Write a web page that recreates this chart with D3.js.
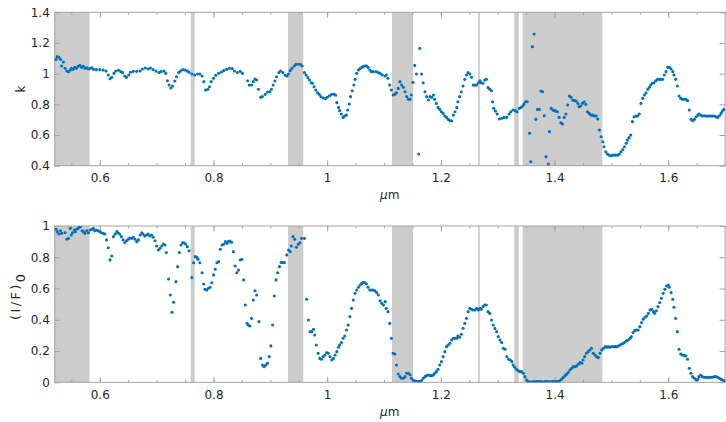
<!DOCTYPE html>
<html>
<head>
<meta charset="utf-8">
<script src="https://cdn.jsdelivr.net/npm/d3@7"></script>
<style>
  html, body { margin: 0; padding: 0; background: #fff; }
  svg { display: block; font-family: "DejaVu Sans", sans-serif; }
</style>
</head>
<body>
<svg id="chart" width="726" height="422"></svg>
<script>
// Wavelength windows shaded in both panels (μm)
const bands = [
  [0.52, 0.582], [0.760, 0.767], [0.931, 0.958], [1.114, 1.151],
  [1.2655, 1.2685], [1.329, 1.337], [1.344, 1.484]
];

const xTicks = [0.6, 0.8, 1.0, 1.2, 1.4, 1.6];
const xMinorTicks = [0.55, 0.6, 0.65, 0.7, 0.75, 0.8, 0.85, 0.9, 0.95, 1.0, 1.05, 1.1, 1.15,
  1.2, 1.25, 1.3, 1.35, 1.4, 1.45, 1.5, 1.55, 1.6, 1.65, 1.7];
const kTicks = [0.4, 0.6, 0.8, 1.0, 1.2, 1.4];
const iofTicks = [0, 0.2, 0.4, 0.6, 0.8, 1.0];

// k versus wavelength: [μm, k]
const kSeries = [
  [0.523,1.093],[0.525,1.111],[0.528,1.107],[0.531,1.093],[0.533,1.050],[0.536,1.076],[0.539,1.035],
  [0.542,1.017],[0.545,1.013],[0.548,1.024],[0.550,1.035],[0.553,1.028],[0.556,1.041],[0.559,1.035],
  [0.562,1.048],[0.565,1.054],[0.568,1.041],[0.571,1.048],[0.574,1.035],[0.577,1.039],[0.580,1.030],
  [0.583,1.035],[0.586,1.039],[0.589,1.028],[0.594,1.026],[0.600,1.026],[0.606,1.024],[0.611,1.017],
  [0.615,0.991],[0.618,0.967],[0.621,0.976],[0.625,1.002],[0.628,1.017],[0.633,1.022],[0.637,1.013],
  [0.640,1.007],[0.644,0.985],[0.647,0.976],[0.651,0.991],[0.654,1.009],[0.659,1.015],[0.665,1.015],
  [0.671,1.017],[0.675,1.030],[0.680,1.037],[0.685,1.030],[0.689,1.037],[0.694,1.026],[0.699,1.017],
  [0.704,1.007],[0.708,1.013],[0.713,1.017],[0.716,1.002],[0.719,0.954],[0.722,0.926],[0.725,0.907],
  [0.728,0.920],[0.732,0.952],[0.735,0.980],[0.739,1.007],[0.742,1.017],[0.746,1.026],[0.750,1.024],
  [0.754,1.017],[0.757,1.009],[0.762,0.998],[0.767,0.991],[0.772,0.998],[0.776,0.998],[0.780,0.985],
  [0.783,0.948],[0.786,0.893],[0.790,0.898],[0.793,0.915],[0.796,0.948],[0.800,0.970],[0.804,0.989],
  [0.809,1.002],[0.814,1.011],[0.818,1.020],[0.823,1.028],[0.828,1.035],[0.833,1.033],[0.837,1.017],
  [0.842,1.007],[0.847,1.015],[0.851,1.002],[0.860,0.954],[0.863,0.926],[0.867,0.926],[0.870,0.948],
  [0.873,0.965],[0.876,0.959],[0.879,0.898],[0.883,0.846],[0.886,0.850],[0.891,0.865],[0.895,0.880],
  [0.899,0.882],[0.902,0.898],[0.905,0.926],[0.908,0.952],[0.911,0.980],[0.915,1.007],[0.918,1.017],
  [0.922,1.007],[0.926,0.991],[0.929,0.985],[0.932,0.998],[0.935,1.020],[0.938,1.035],[0.942,1.050],
  [0.945,1.061],[0.949,1.061],[0.953,1.061],[0.956,1.050],[0.960,1.007],[0.963,0.991],[0.966,0.974],
  [0.969,0.959],[0.972,0.941],[0.974,0.937],[0.977,0.915],[0.980,0.893],[0.983,0.876],[0.986,0.865],
  [0.989,0.850],[0.993,0.841],[0.997,0.837],[1.000,0.846],[1.004,0.856],[1.008,0.865],[1.012,0.867],
  [1.015,0.859],[1.017,0.811],[1.020,0.780],[1.022,0.759],[1.025,0.737],[1.028,0.715],[1.031,0.724],
  [1.034,0.730],[1.036,0.763],[1.039,0.802],[1.041,0.850],[1.044,0.889],[1.047,0.926],[1.049,0.963],
  [1.052,1.002],[1.055,1.024],[1.058,1.033],[1.061,1.041],[1.063,1.046],[1.066,1.050],[1.069,1.052],
  [1.072,1.041],[1.075,1.024],[1.078,1.013],[1.081,1.013],[1.086,1.013],[1.090,1.007],[1.093,1.002],
  [1.097,0.991],[1.102,0.985],[1.104,0.991],[1.107,0.970],[1.110,0.926],[1.113,0.893],[1.116,0.861],
  [1.119,0.865],[1.122,0.876],[1.125,0.904],[1.128,0.948],[1.131,0.926],[1.134,0.911],[1.137,0.882],
  [1.140,0.850],[1.143,0.833],[1.146,0.833],[1.148,0.861],[1.151,0.943],[1.154,1.054],[1.157,0.998],
  [1.161,0.476],[1.163,1.165],[1.166,0.998],[1.169,0.941],[1.172,0.882],[1.175,0.850],[1.178,0.828],
  [1.181,0.850],[1.184,0.846],[1.187,0.861],[1.189,0.833],[1.192,0.806],[1.195,0.780],[1.198,0.767],
  [1.201,0.752],[1.204,0.741],[1.207,0.724],[1.210,0.715],[1.213,0.702],[1.216,0.693],[1.219,0.693],
  [1.222,0.730],[1.225,0.752],[1.228,0.780],[1.230,0.817],[1.233,0.850],[1.236,0.882],[1.239,0.920],
  [1.242,0.963],[1.245,0.991],[1.248,1.007],[1.251,0.998],[1.254,0.976],[1.257,0.926],[1.260,0.926],
  [1.263,0.926],[1.266,0.941],[1.269,0.954],[1.271,0.941],[1.274,0.937],[1.277,0.959],[1.280,0.963],
  [1.283,0.909],[1.286,0.898],[1.289,0.889],[1.291,0.817],[1.293,0.774],[1.296,0.756],[1.299,0.737],
  [1.303,0.704],[1.307,0.709],[1.311,0.715],[1.316,0.715],[1.320,0.737],[1.323,0.752],[1.327,0.763],
  [1.331,0.759],[1.334,0.752],[1.338,0.774],[1.341,0.780],[1.344,0.789],[1.346,0.802],[1.349,0.817],
  [1.352,0.817],[1.356,0.611],[1.358,0.426],[1.361,1.176],[1.364,1.259],[1.367,0.702],[1.370,0.767],
  [1.373,0.767],[1.376,0.887],[1.379,0.882],[1.382,0.726],[1.385,0.459],[1.389,0.411],[1.391,0.622],
  [1.394,0.774],[1.397,0.763],[1.400,0.759],[1.402,0.756],[1.405,0.752],[1.408,0.715],[1.411,0.680],
  [1.414,0.672],[1.417,0.715],[1.420,0.737],[1.423,0.796],[1.426,0.854],[1.429,0.846],[1.432,0.828],
  [1.435,0.824],[1.438,0.822],[1.441,0.806],[1.443,0.785],[1.446,0.789],[1.449,0.806],[1.452,0.817],
  [1.455,0.800],[1.458,0.752],[1.461,0.741],[1.464,0.730],[1.467,0.730],[1.470,0.724],[1.473,0.724],
  [1.476,0.704],[1.479,0.633],[1.482,0.589],[1.485,0.556],[1.487,0.524],[1.490,0.491],[1.493,0.476],
  [1.496,0.469],[1.499,0.465],[1.502,0.469],[1.505,0.469],[1.508,0.469],[1.511,0.469],[1.514,0.476],
  [1.517,0.491],[1.520,0.506],[1.523,0.524],[1.526,0.546],[1.528,0.567],[1.531,0.583],[1.534,0.600],
  [1.537,0.687],[1.540,0.719],[1.543,0.724],[1.546,0.724],[1.549,0.737],[1.552,0.806],[1.555,0.839],
  [1.558,0.861],[1.561,0.876],[1.564,0.898],[1.567,0.911],[1.569,0.926],[1.572,0.937],[1.575,0.941],
  [1.578,0.954],[1.581,0.963],[1.584,0.963],[1.587,0.963],[1.590,0.963],[1.593,0.991],[1.596,1.013],
  [1.599,1.041],[1.602,1.041],[1.605,1.030],[1.608,1.013],[1.610,0.991],[1.613,0.963],[1.616,0.920],
  [1.619,0.854],[1.622,0.839],[1.625,0.833],[1.628,0.833],[1.631,0.833],[1.634,0.824],[1.637,0.763],
  [1.640,0.702],[1.643,0.693],[1.646,0.702],[1.649,0.719],[1.652,0.730],[1.654,0.737],[1.657,0.730],
  [1.660,0.724],[1.663,0.726],[1.666,0.724],[1.669,0.724],[1.672,0.724],[1.675,0.724],[1.678,0.724],
  [1.681,0.724],[1.684,0.719],[1.687,0.715],[1.690,0.726],[1.693,0.741],[1.695,0.756],[1.698,0.767]
];

// (I/F)0 versus wavelength: [μm, (I/F)0]
const iofSeries = [
  [0.523,0.979],[0.525,0.964],[0.528,0.949],[0.531,0.970],[0.533,0.953],[0.539,0.957],[0.542,0.915],
  [0.545,0.921],[0.548,0.985],[0.550,0.942],[0.552,0.957],[0.555,0.974],[0.557,0.964],[0.559,0.979],
  [0.562,0.985],[0.564,0.992],[0.566,0.996],[0.569,0.970],[0.571,0.964],[0.574,0.953],[0.577,0.970],
  [0.580,0.957],[0.583,0.974],[0.586,0.979],[0.589,0.985],[0.591,0.970],[0.594,0.974],[0.597,0.970],
  [0.600,0.964],[0.603,0.957],[0.606,0.953],[0.609,0.949],[0.612,0.911],[0.615,0.861],[0.618,0.783],
  [0.621,0.808],[0.624,0.932],[0.627,0.949],[0.630,0.964],[0.632,0.957],[0.635,0.949],[0.638,0.932],
  [0.641,0.911],[0.644,0.893],[0.647,0.906],[0.650,0.915],[0.653,0.923],[0.656,0.921],[0.659,0.928],
  [0.662,0.915],[0.665,0.900],[0.668,0.911],[0.671,0.942],[0.674,0.957],[0.676,0.949],[0.679,0.936],
  [0.682,0.942],[0.685,0.949],[0.688,0.936],[0.691,0.942],[0.694,0.928],[0.697,0.906],[0.700,0.872],
  [0.703,0.846],[0.706,0.857],[0.709,0.872],[0.712,0.885],[0.715,0.878],[0.717,0.830],[0.721,0.661],
  [0.724,0.559],[0.727,0.448],[0.730,0.512],[0.734,0.644],[0.737,0.740],[0.740,0.830],[0.743,0.878],
  [0.746,0.893],[0.748,0.893],[0.751,0.885],[0.754,0.868],[0.757,0.842],[0.762,0.670],[0.765,0.765],
  [0.768,0.804],[0.771,0.799],[0.773,0.787],[0.776,0.765],[0.780,0.701],[0.783,0.629],[0.785,0.595],
  [0.788,0.591],[0.791,0.601],[0.794,0.608],[0.797,0.637],[0.800,0.687],[0.803,0.723],[0.806,0.765],
  [0.809,0.772],[0.812,0.851],[0.815,0.878],[0.818,0.883],[0.821,0.900],[0.824,0.889],[0.826,0.900],
  [0.829,0.904],[0.832,0.896],[0.835,0.836],[0.838,0.744],[0.841,0.701],[0.844,0.718],[0.847,0.782],
  [0.850,0.787],[0.853,0.655],[0.856,0.495],[0.859,0.377],[0.861,0.367],[0.864,0.360],[0.867,0.409],
  [0.870,0.527],[0.873,0.586],[0.876,0.559],[0.880,0.388],[0.883,0.153],[0.886,0.111],[0.889,0.100],
  [0.892,0.111],[0.895,0.122],[0.898,0.164],[0.901,0.233],[0.904,0.367],[0.907,0.552],[0.910,0.655],
  [0.913,0.701],[0.916,0.740],[0.919,0.766],[0.922,0.766],[0.925,0.766],[0.929,0.815],[0.932,0.846],
  [0.935,0.836],[0.937,0.872],[0.940,0.932],[0.943,0.915],[0.946,0.864],[0.949,0.883],[0.952,0.893],
  [0.955,0.921],[0.960,0.921],[0.964,0.531],[0.967,0.399],[0.970,0.324],[0.973,0.324],[0.976,0.339],
  [0.978,0.303],[0.981,0.239],[0.984,0.186],[0.987,0.153],[0.990,0.147],[0.993,0.164],[0.996,0.175],
  [0.999,0.190],[1.002,0.186],[1.005,0.164],[1.008,0.143],[1.011,0.153],[1.014,0.175],[1.017,0.196],
  [1.020,0.224],[1.022,0.239],[1.025,0.254],[1.028,0.282],[1.031,0.296],[1.034,0.335],[1.037,0.367],
  [1.040,0.420],[1.043,0.473],[1.046,0.527],[1.049,0.569],[1.052,0.591],[1.055,0.608],[1.058,0.623],
  [1.061,0.633],[1.063,0.638],[1.066,0.638],[1.069,0.629],[1.072,0.608],[1.075,0.591],[1.078,0.591],
  [1.081,0.591],[1.084,0.586],[1.087,0.574],[1.090,0.559],[1.093,0.522],[1.096,0.505],[1.099,0.495],
  [1.102,0.516],[1.104,0.473],[1.107,0.452],[1.110,0.377],[1.113,0.282],[1.116,0.186],[1.119,0.181],
  [1.122,0.111],[1.125,0.053],[1.128,0.036],[1.131,0.026],[1.134,0.026],[1.137,0.036],[1.140,0.058],
  [1.143,0.058],[1.146,0.047],[1.148,0.026],[1.151,0.015],[1.154,0.009],[1.157,0.004],[1.160,0.004],
  [1.163,0.004],[1.166,0.011],[1.169,0.026],[1.172,0.036],[1.175,0.043],[1.178,0.047],[1.181,0.043],
  [1.184,0.043],[1.187,0.047],[1.189,0.058],[1.192,0.068],[1.195,0.083],[1.198,0.111],[1.201,0.132],
  [1.204,0.164],[1.207,0.196],[1.210,0.228],[1.213,0.239],[1.216,0.250],[1.219,0.271],[1.222,0.282],
  [1.225,0.282],[1.228,0.282],[1.230,0.296],[1.233,0.288],[1.236,0.307],[1.239,0.346],[1.242,0.377],
  [1.245,0.409],[1.248,0.452],[1.251,0.473],[1.254,0.467],[1.257,0.463],[1.260,0.463],[1.263,0.473],
  [1.266,0.463],[1.269,0.473],[1.271,0.467],[1.274,0.484],[1.277,0.495],[1.280,0.495],[1.283,0.452],
  [1.286,0.441],[1.289,0.399],[1.292,0.367],[1.295,0.345],[1.298,0.324],[1.301,0.292],[1.304,0.271],
  [1.307,0.254],[1.310,0.218],[1.313,0.211],[1.316,0.164],[1.319,0.147],[1.322,0.143],[1.325,0.132],
  [1.327,0.111],[1.330,0.096],[1.333,0.083],[1.336,0.075],[1.339,0.068],[1.342,0.068],[1.345,0.058],
  [1.348,0.036],[1.351,0.015],[1.354,0.004],[1.357,0.002],[1.360,0.002],[1.363,0.004],[1.366,0.002],
  [1.368,0.004],[1.371,0.004],[1.374,0.004],[1.377,0.004],[1.380,0.002],[1.383,0.004],[1.386,0.004],
  [1.389,0.004],[1.392,0.002],[1.395,0.004],[1.398,0.004],[1.401,0.004],[1.404,0.004],[1.407,0.004],
  [1.409,0.009],[1.412,0.019],[1.415,0.030],[1.418,0.041],[1.421,0.051],[1.424,0.062],[1.427,0.079],
  [1.430,0.090],[1.433,0.100],[1.436,0.100],[1.439,0.105],[1.442,0.117],[1.445,0.126],[1.448,0.122],
  [1.450,0.143],[1.453,0.164],[1.456,0.186],[1.459,0.196],[1.462,0.207],[1.465,0.218],[1.468,0.186],
  [1.471,0.175],[1.474,0.164],[1.477,0.158],[1.480,0.186],[1.483,0.207],[1.486,0.218],[1.489,0.228],
  [1.492,0.224],[1.494,0.228],[1.497,0.224],[1.500,0.228],[1.503,0.228],[1.506,0.228],[1.509,0.228],
  [1.512,0.232],[1.515,0.239],[1.518,0.245],[1.521,0.250],[1.524,0.258],[1.527,0.267],[1.530,0.271],
  [1.533,0.282],[1.535,0.292],[1.538,0.318],[1.541,0.331],[1.544,0.335],[1.547,0.335],[1.550,0.356],
  [1.553,0.382],[1.556,0.403],[1.559,0.416],[1.562,0.424],[1.565,0.441],[1.568,0.463],[1.571,0.467],
  [1.574,0.452],[1.576,0.441],[1.579,0.458],[1.582,0.484],[1.585,0.510],[1.588,0.537],[1.591,0.569],
  [1.594,0.595],[1.597,0.616],[1.600,0.623],[1.602,0.608],[1.605,0.574],[1.608,0.531],[1.610,0.480],
  [1.613,0.409],[1.616,0.324],[1.619,0.211],[1.622,0.181],[1.625,0.175],[1.628,0.173],[1.631,0.168],
  [1.634,0.147],[1.637,0.090],[1.640,0.058],[1.643,0.036],[1.646,0.026],[1.649,0.015],[1.652,0.019],
  [1.654,0.036],[1.657,0.047],[1.660,0.036],[1.663,0.032],[1.666,0.032],[1.669,0.030],[1.672,0.032],
  [1.675,0.032],[1.678,0.032],[1.681,0.036],[1.684,0.036],[1.687,0.032],[1.690,0.026],[1.693,0.019],
  [1.695,0.015],[1.698,0.011]
];

const svg = d3.select("#chart");
const left = 54.3, right = 725.1;
const x = d3.scaleLinear().domain([0.52, 1.70]).range([left, right]);

const axisColor = "#a3a3a3";
const textColor = "#262626";
const dotColor = "#0072bd";
const fmt = d => String(+d.toFixed(2));

function panel(cfg) {
  const y = d3.scaleLinear().domain(cfg.domain).range([cfg.bottom, cfg.top]);
  const g = svg.append("g");
  const clipId = "clip-" + cfg.id;
  svg.append("clipPath").attr("id", clipId)
    .append("rect").attr("x", left).attr("y", cfg.top)
    .attr("width", right - left).attr("height", cfg.bottom - cfg.top);

  // shaded wavelength windows
  g.append("g").selectAll("rect").data(bands).join("rect")
    .attr("x", d => x(d[0]))
    .attr("width", d => x(d[1]) - x(d[0]))
    .attr("y", cfg.top)
    .attr("height", cfg.bottom - cfg.top)
    .attr("fill", "#cccccc");

  // axes: major ticks labelled on bottom/left, minor ticks every 0.05 μm
  const bottomAxis = g.append("g").attr("transform", `translate(0,${cfg.bottom})`)
    .call(d3.axisBottom(x).tickValues(xTicks).tickSize(-5.5).tickPadding(8).tickFormat(fmt));
  const bottomMinor = g.append("g").attr("transform", `translate(0,${cfg.bottom})`)
    .call(d3.axisBottom(x).tickValues(xMinorTicks).tickSize(-2.5).tickFormat(""));
  const topAxis = g.append("g").attr("transform", `translate(0,${cfg.top})`)
    .call(d3.axisTop(x).tickValues(xTicks).tickSize(-5.5).tickFormat(""));
  const topMinor = g.append("g").attr("transform", `translate(0,${cfg.top})`)
    .call(d3.axisTop(x).tickValues(xMinorTicks).tickSize(-2.5).tickFormat(""));
  const leftAxis = g.append("g").attr("transform", `translate(${left},0)`)
    .call(d3.axisLeft(y).tickValues(cfg.ticks).tickSize(-5.5).tickPadding(4.5).tickFormat(fmt));
  const rightAxis = g.append("g").attr("transform", `translate(${right},0)`)
    .call(d3.axisRight(y).tickValues(cfg.ticks).tickSize(-5.5).tickFormat(""));

  [bottomAxis, bottomMinor, topAxis, topMinor, leftAxis, rightAxis].forEach(a => {
    a.select(".domain").remove();
    a.selectAll("line").attr("stroke", axisColor);
    a.selectAll("text").attr("fill", textColor)
      .style("font-family", "DejaVu Sans, sans-serif").style("font-size", "12px");
  });

  g.append("rect")
    .attr("x", left + 0.5).attr("y", cfg.top)
    .attr("width", right - left - 0.5).attr("height", cfg.bottom - cfg.top)
    .attr("fill", "none").attr("stroke", axisColor).attr("stroke-width", 1);

  // data points
  g.append("g").attr("clip-path", `url(#${clipId})`)
    .selectAll("circle").data(cfg.data).join("circle")
    .attr("cx", d => x(d[0]))
    .attr("cy", d => y(d[1]))
    .attr("r", 1.55)
    .attr("fill", dotColor);

  // x label: italic μ followed by upright m
  const xl = g.append("text")
    .attr("x", (left + right) / 2).attr("y", cfg.xLabelY)
    .attr("text-anchor", "middle").attr("fill", textColor)
    .style("font-size", "12px");
  xl.append("tspan").style("font-style", "italic").text("μ");
  xl.append("tspan").text("m");

  return g;
}

const kPanel = panel({
  id: "k", domain: [0.4, 1.4], top: 12.3, bottom: 165.7,
  ticks: kTicks, data: kSeries, xLabelY: 199
});
kPanel.append("text")
  .attr("transform", "translate(25,89) rotate(-90)")
  .attr("text-anchor", "middle").attr("fill", textColor)
  .style("font-size", "12px").text("k");

const iofPanel = panel({
  id: "iof", domain: [0, 1], top: 226, bottom: 382.3,
  ticks: iofTicks, data: iofSeries, xLabelY: 416
});
// y label (I/F) with subscript 0, rotated to read bottom-to-top
const yl = iofPanel.append("text")
  .attr("transform", "translate(20,320) rotate(-90)")
  .attr("text-anchor", "start").attr("fill", textColor)
  .style("font-size", "13px");
yl.append("tspan").style("letter-spacing", "2.4px").text("(I/F)");
yl.append("tspan").attr("dy", "4.5").text("0");
</script>
</body>
</html>
